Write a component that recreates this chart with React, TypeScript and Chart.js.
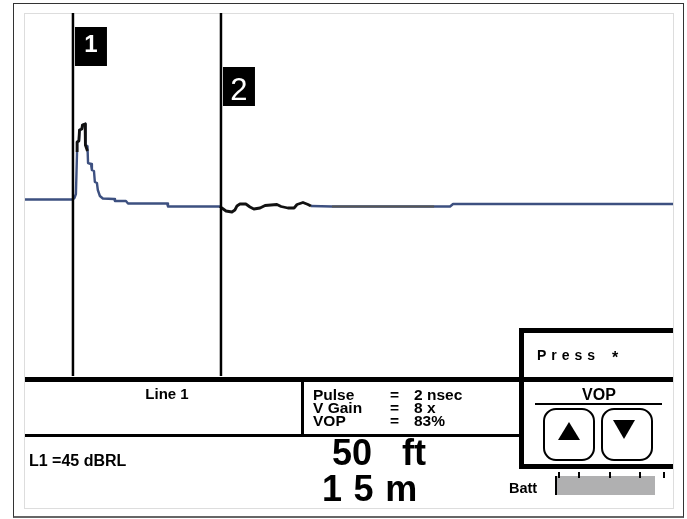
import React, { useEffect, useRef } from "react";
import { Chart, registerables } from "chart.js";

Chart.register(...registerables);

const traceFeet = [-16.2, 0, 0.5, 1, 1.4, 1.4, 2, 2.2, 3, 3.2, 4.1, 4.2, 4.9, 5.1, 6.1, 6.4, 7.1, 7.4, 8.1, 8.4, 9.1, 10.1, 13.9, 14.2, 17.9, 18.6, 31.8, 32.1, 49.7, 60, 80.4, 87.5, 127.4, 128.4, 202.7];
const traceLevel = [176.5, 176.5, 178, 182, 226, 234, 235, 246, 247, 251, 252, 231, 230, 213, 212, 206, 205, 194, 193, 186, 180, 177.5, 177, 175, 175, 172.5, 172.5, 169.5, 169.5, null, 170, 169.5, 169.5, 172, 172];
const peakFeet = [1.4, 1.4, 2, 2.2, 3, 3.2, 4.1, 4.2, 4.9];
const peakLevel = [224, 234, 235, 246, 247, 251, 252, 231, 225];
const rippleFeet = [49.7, 50.3, 51.7, 53.7, 54.7, 55.4, 56.4, 58.4, 59.8, 61.1, 63.2, 64.9, 68.9, 70.3, 72.6, 74.7, 75.7, 77.7, 79.4, 80.4];
const rippleLevel = [169.5, 168, 165, 164, 166, 170, 172, 172, 169, 167, 168, 170.5, 171.5, 169.5, 168, 168, 171.5, 173.5, 171.5, 170];
const flatFeet = [87.5, 122];
const flatLevel = [169.5, 169.5];
const cursorFeet = [0, 50];
const cursorLabels = ["1", "2"];
const levelRange = [0, 363];
const feetRange = [-16.2, 202.7];
const batteryTicks = [558, 578, 609, 639, 663];
const settingNames = ["Pulse", "V Gain", "VOP"];
const settingValues = ["2 nsec", "8 x", "83%"];

const zip = (xs: number[], ys: (number | null)[]) => xs.map((x, i) => ({ x, y: ys[i] }));

const font = "'Liberation Sans', Arial, sans-serif";

const cursorTags = {
  id: "cursorTags",
  afterDatasetsDraw(chart: any) {
    const { ctx, scales } = chart;
    const tops = [27, 67];
    const fonts = [`bold 24px ${font}`, `normal 31px ${font}`];
    const mids = [18, 24];
    cursorFeet.forEach((f, i) => {
      const px = scales.x.getPixelForValue(f);
      ctx.save();
      ctx.fillStyle = "#000";
      ctx.fillRect(px + 2, tops[i], 32, 39);
      ctx.fillStyle = "#fff";
      ctx.font = fonts[i];
      ctx.textAlign = "center";
      ctx.textBaseline = "middle";
      ctx.fillText(cursorLabels[i], px + 18, tops[i] + mids[i]);
      ctx.restore();
    });
  },
};

const box = (l: number, t: number, w: number, h: number, bg = "#000"): React.CSSProperties => ({
  position: "absolute", left: l, top: t, width: w, height: h, background: bg,
});

const Txt = ({ l, c, y, size, children, spacing, w }: any) => (
  <div style={{
    position: "absolute",
    left: c !== undefined ? c - 100 : l,
    width: c !== undefined ? 200 : w ?? 200,
    textAlign: c !== undefined ? "center" : "left",
    top: y - 20, height: 40, lineHeight: "40px",
    fontFamily: font, fontWeight: 700, fontSize: size, color: "#000",
    letterSpacing: spacing, whiteSpace: "pre",
  }}>{children}</div>
);

export default function App() {
  const ref = useRef<HTMLCanvasElement>(null);
  useEffect(() => {
    const line = (data: any[], color: string, width: number) => ({
      data, borderColor: color, borderWidth: width, borderJoinStyle: "round", pointRadius: 0, tension: 0, fill: false, showLine: true, spanGaps: false,
    });
    const chart = new Chart(ref.current!, {
      type: "scatter",
      data: {
        datasets: [
          ...cursorFeet.map((f) => line(zip([f, f], levelRange), "#000000", 2.5)),
          line(zip(rippleFeet, rippleLevel), "#111111", 2.8),
          line(zip(peakFeet, peakLevel), "#111111", 2.8),
          line(zip(flatFeet, flatLevel), "#555555", 2),
          line(zip(traceFeet, traceLevel), "#3d5080", 2.4),
        ],
      },
      options: {
        animation: false,
        responsive: false,
        layout: { padding: { left: 25, top: 13, right: 14, bottom: 143 } },
        plugins: { legend: { display: false }, tooltip: { enabled: false } },
        scales: {
          x: { type: "linear", display: false, min: feetRange[0], max: feetRange[1] },
          y: { type: "linear", display: false, min: levelRange[0], max: levelRange[1] },
        },
      },
      plugins: [cursorTags],
    });
    return () => chart.destroy();
  }, []);

  return (
    <div style={{ position: "fixed", left: 0, top: 0, width: 687, height: 519, background: "#fff", overflow: "hidden" }}>
      <div style={{ position: "absolute", left: 13, top: 3, width: 669, height: 512, border: "1.5px solid #333", borderBottomColor: "#666", borderBottomWidth: 2 }} />
      <div style={{ position: "absolute", left: 24, top: 13, width: 648, height: 494, border: "1px solid #ddd" }} />
      <canvas ref={ref} width={687} height={519} style={{ position: "absolute", left: 0, top: 0, width: 687, height: 519 }} />

      <div style={box(25, 377, 648, 5)} />
      <div style={box(25, 434, 496, 3)} />
      <div style={box(301, 382, 2.5, 52)} />
      <div style={box(519, 328, 5, 141)} />
      <div style={box(519, 328, 154, 5)} />
      <div style={box(519, 464, 154, 5)} />

      <Txt c={167} y={394} size={15}>Line 1</Txt>
      <Txt l={29} y={461} size={16}>L1 =45 dBRL</Txt>
      {settingNames.map((n, i) => (
        <React.Fragment key={n}>
          <Txt l={313} y={395 + i * 13} size={15.5}>{n}</Txt>
          <Txt l={390} y={395 + i * 13} size={15.5}>=</Txt>
          <Txt l={414} y={395 + i * 13} size={15.5}>{settingValues[i]}</Txt>
        </React.Fragment>
      ))}
      <Txt l={332} y={453} size={36}>50</Txt>
      <Txt l={402} y={453} size={36}>ft</Txt>
      <Txt l={322} y={489} size={36} spacing={0.8}>1 5 m</Txt>

      <Txt l={537} y={355} size={14} spacing={5}>Press</Txt>
      <Txt l={612} y={358} size={16}>*</Txt>
      <Txt c={599} y={395} size={16}>VOP</Txt>
      <div style={box(535, 403, 127, 2)} />
      <div style={{ position: "absolute", left: 543, top: 408, width: 48, height: 49, border: "2px solid #000", borderRadius: 13 }} />
      <div style={{ position: "absolute", left: 601, top: 408, width: 48, height: 49, border: "2px solid #000", borderRadius: 13 }} />
      <div style={{ position: "absolute", left: 558, top: 422, width: 0, height: 0, borderLeft: "11px solid transparent", borderRight: "11px solid transparent", borderBottom: "18px solid #000" }} />
      <div style={{ position: "absolute", left: 613, top: 420, width: 0, height: 0, borderLeft: "11.5px solid transparent", borderRight: "11.5px solid transparent", borderTop: "19px solid #000" }} />

      <Txt l={509} y={488} size={14.5}>Batt</Txt>
      <div style={box(557, 476, 98, 19, "#b0b0b1")} />
      <div style={box(555, 476, 2, 19)} />
      {batteryTicks.map((x) => <div key={x} style={box(x, 472, 2, 6)} />)}
    </div>
  );
}
